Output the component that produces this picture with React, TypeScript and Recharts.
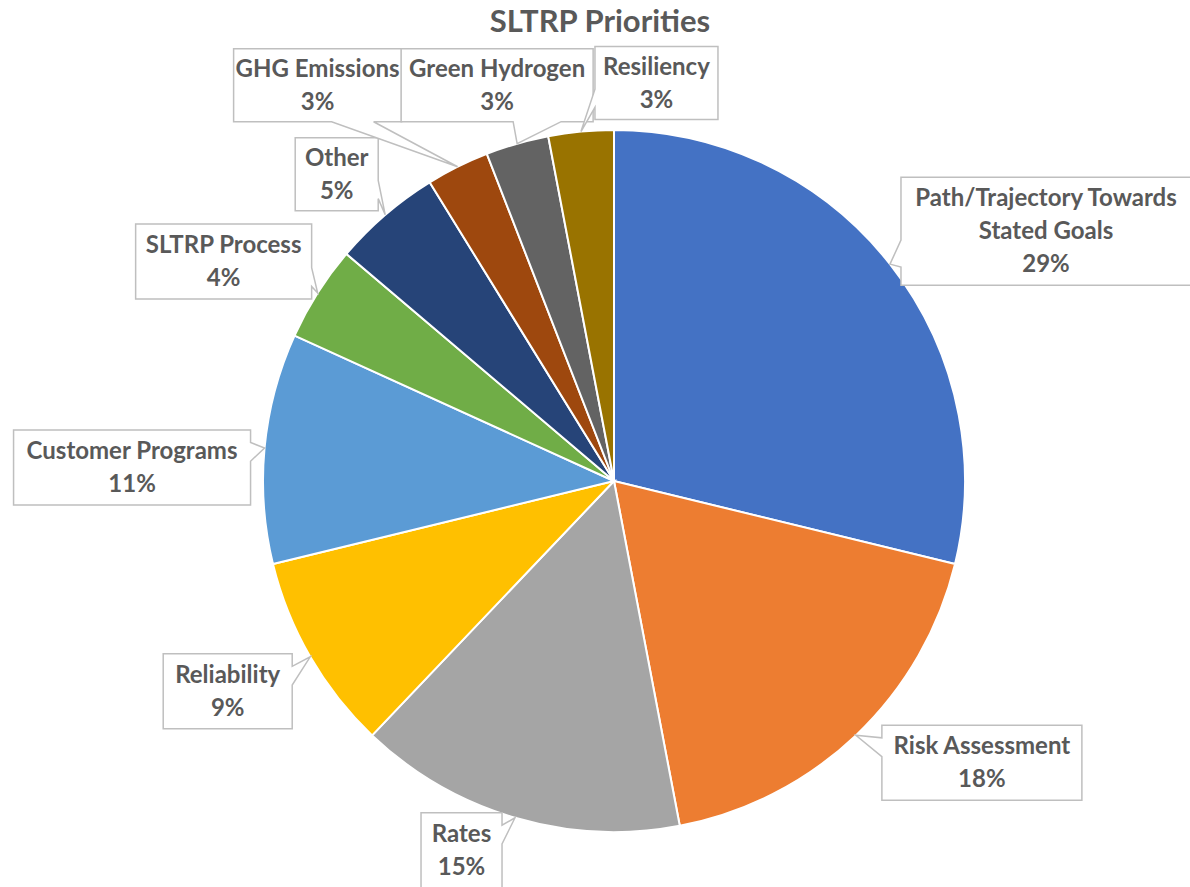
import { PieChart, Pie, Cell } from "recharts";

const categories = [
  "Path/Trajectory Towards Stated Goals",
  "Risk Assessment",
  "Rates",
  "Reliability",
  "Customer Programs",
  "SLTRP Process",
  "Other",
  "GHG Emissions",
  "Green Hydrogen",
  "Resiliency",
];
const shares = [28.8, 18.2, 15.1, 9.1, 10.6, 4.4, 5.0, 2.9, 2.9, 3.0];
const colors = [
  "#4472C4",
  "#ED7D31",
  "#A5A5A5",
  "#FFC000",
  "#5B9BD5",
  "#70AD47",
  "#264478",
  "#9E480E",
  "#636363",
  "#997300",
];

// where each callout box sits, relative to the point on the rim it points at
const callouts: { dx: number; dy: number; w: number; h: number; side?: string }[] = [
  { dx: 11, dy: -87, w: 290, h: 108 },
  { dx: 26, dy: -10, w: 200, h: 75 },
  { dx: -94, dy: -5, w: 81, h: 75 },
  { dx: -147, dy: -3, w: 129, h: 75 },
  { dx: -251, dy: -18, w: 237, h: 75 },
  { dx: -182, dy: -69, w: 176, h: 75 },
  { dx: -90, dy: -77, w: 83, h: 73 },
  { dx: -224, dy: -118, w: 168, h: 73 },
  { dx: -116, dy: -95, w: 192, h: 73 },
  { dx: 14, dy: -85, w: 123, h: 73, side: "left" },
];

const data = categories.map((name, i) => ({ name, value: shares[i] }));

const TEXT = "#595959";
const FONT = "Lato, 'Open Sans', sans-serif";
const RAD = Math.PI / 180;

function wrap(text: string, maxW: number) {
  const words = text.split(" ");
  const lines: string[] = [];
  let cur = "";
  for (const w of words) {
    const next = cur ? cur + " " + w : w;
    if (next.length * 11.6 > maxW && cur) {
      lines.push(cur);
      cur = w;
    } else cur = next;
  }
  if (cur) lines.push(cur);
  return lines;
}

// rectangle callout with a wedge pointing at (tx, ty)
function calloutPath(x: number, y: number, w: number, h: number, tx: number, ty: number, side?: string) {
  const dxp = tx - (x + w / 2);
  const dyp = ty - (y + h / 2);
  const dq = (dxp * h) / w;
  let s = side;
  if (!s) {
    if (Math.abs(dyp) > Math.abs(dq)) s = dyp > 0 ? "bottom" : "top";
    else s = dxp > 0 ? "right" : "left";
  }
  const x1 = x + (w * (dxp > 0 ? 7 : 2)) / 12;
  const x2 = x + (w * (dxp > 0 ? 10 : 5)) / 12;
  const y1 = y + (h * (dyp > 0 ? 7 : 2)) / 12;
  const y2 = y + (h * (dyp > 0 ? 10 : 5)) / 12;
  const r = x + w;
  const b = y + h;
  let d = `M${x},${y}`;
  if (s === "top") d += ` L${x1},${y} L${tx},${ty} L${x2},${y}`;
  d += ` L${r},${y}`;
  if (s === "right") d += ` L${r},${y1} L${tx},${ty} L${r},${y2}`;
  d += ` L${r},${b}`;
  if (s === "bottom") d += ` L${x2},${b} L${tx},${ty} L${x1},${b}`;
  d += ` L${x},${b}`;
  if (s === "left") d += ` L${x},${y2} L${tx},${ty} L${x},${y1}`;
  return d + " Z";
}

function renderCallout(props: any) {
  const { cx, cy, midAngle, outerRadius, percent, index, name } = props;
  const tx = cx + outerRadius * Math.cos(-midAngle * RAD);
  const ty = cy + outerRadius * Math.sin(-midAngle * RAD);
  const c = callouts[index];
  const bx = tx + c.dx;
  const by = ty + c.dy;
  const lines = [...wrap(name, c.w - 12), `${Math.round(percent * 100)}%`];
  const lh = 33;
  const mid = by + c.h / 2;
  return (
    <g key={`callout-${index}`}>
      <path
        d={calloutPath(bx, by, c.w, c.h, tx, ty, c.side)}
        fill="#fff"
        stroke="#BFBFBF"
        strokeWidth={1.5}
      />
      {lines.map((ln, i) => (
        <text
          key={i}
          x={bx + c.w / 2}
          y={mid + (i - (lines.length - 1) / 2) * lh + 8}
          textAnchor="middle"
          fill={TEXT}
          fontFamily={FONT}
          fontWeight="bold"
          fontSize={24}
        >
          {ln}
        </text>
      ))}
    </g>
  );
}

export default function App() {
  return (
    <div
      style={{
        position: "absolute",
        left: 0,
        top: 0,
        width: 1190,
        height: 887,
        background: "#fff",
        overflow: "hidden",
      }}
    >
      <div
        style={{
          position: "absolute",
          left: 0,
          top: 5,
          width: 1200,
          textAlign: "center",
          fontFamily: FONT,
          fontWeight: "bold",
          fontSize: 31,
          lineHeight: 1,
          color: TEXT,
        }}
      >
        SLTRP Priorities
      </div>
      <PieChart
        width={1190}
        height={887}
        margin={{ top: 0, right: 0, bottom: 0, left: 0 }}
        style={{ position: "absolute", left: 0, top: 0 }}
      >
        <Pie
          data={data}
          dataKey="value"
          nameKey="name"
          cx={614}
          cy={481}
          outerRadius={351}
          startAngle={90}
          endAngle={-270}
          stroke="#fff"
          strokeWidth={2}
          label={renderCallout}
          labelLine={false}
          isAnimationActive={false}
        >
          {data.map((d, i) => (
            <Cell key={d.name} fill={colors[i]} />
          ))}
        </Pie>
      </PieChart>
    </div>
  );
}
